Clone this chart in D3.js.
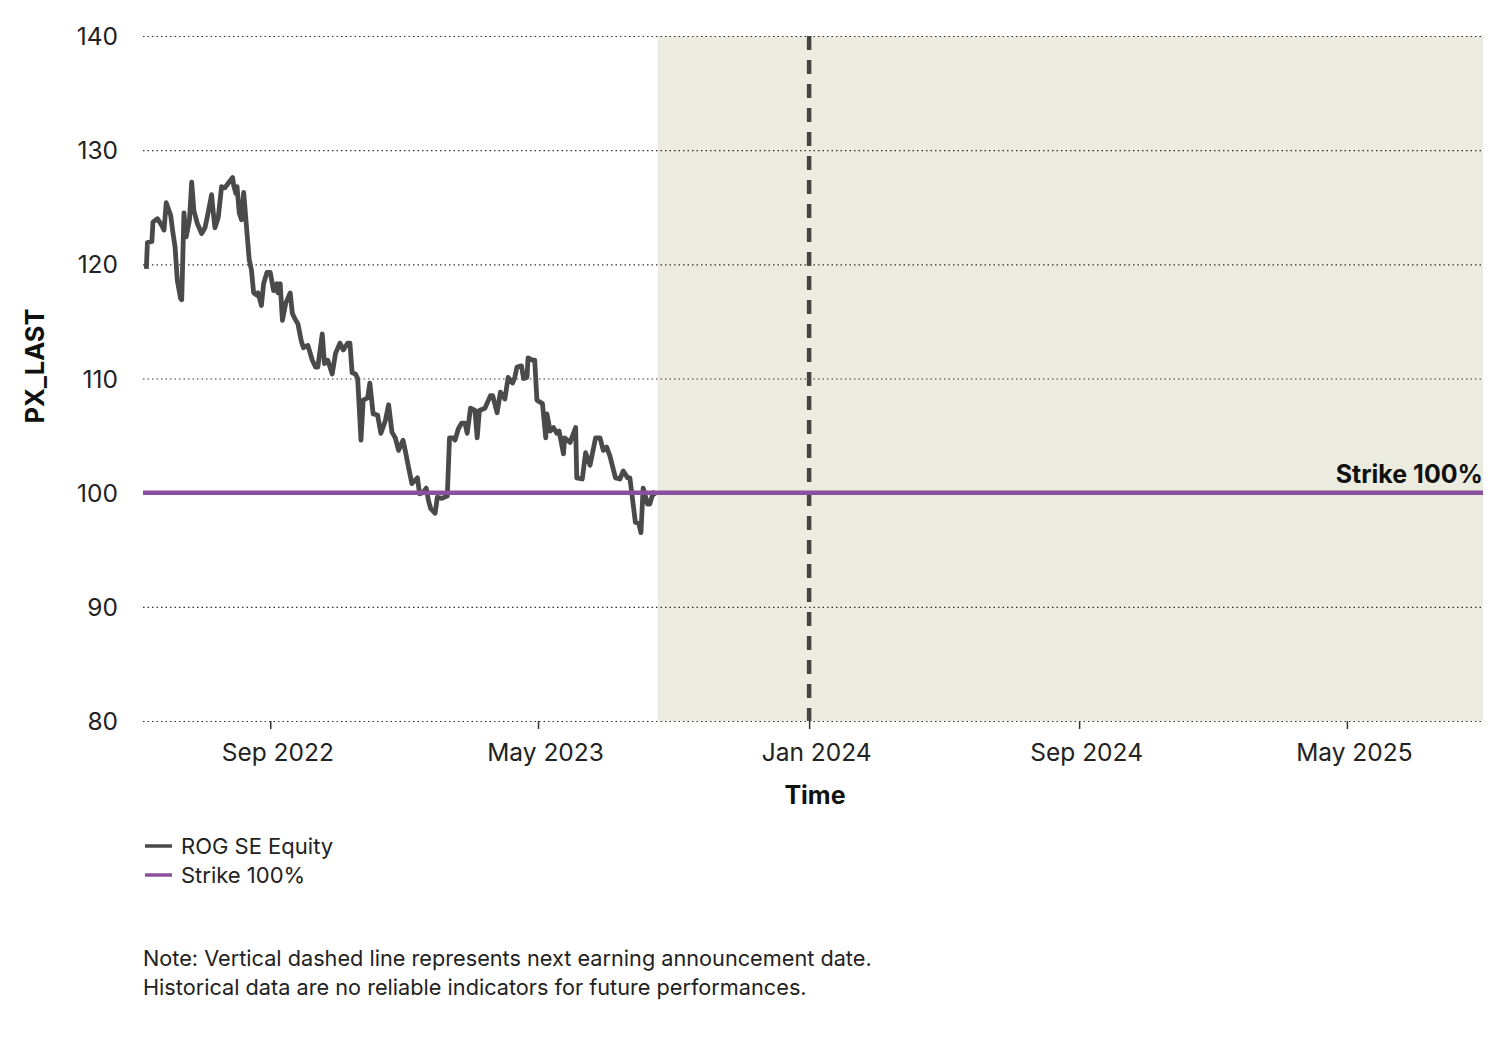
<!DOCTYPE html>
<html>
<head>
<meta charset="utf-8">
<script src="https://cdn.jsdelivr.net/npm/d3@7"></script>
<style>
  body { margin: 0; background: #fff; }
  svg { display: block; font-family: Inter, "Noto Sans", sans-serif; }
</style>
</head>
<body>
<div id="chart"></div>
<script>
// --- data ---
var dates = [
  "2022-05-12","2022-05-13","2022-05-17","2022-05-18","2022-05-22","2022-05-26","2022-05-28","2022-05-30",
  "2022-06-03","2022-06-05","2022-06-07","2022-06-09","2022-06-12","2022-06-13","2022-06-15","2022-06-17",
  "2022-06-20","2022-06-22","2022-06-24","2022-06-27","2022-07-01","2022-07-04","2022-07-06","2022-07-10",
  "2022-07-11","2022-07-13","2022-07-16","2022-07-19","2022-07-22","2022-07-25","2022-07-29","2022-07-30",
  "2022-08-01","2022-08-02","2022-08-04","2022-08-06","2022-08-08","2022-08-10","2022-08-13","2022-08-15",
  "2022-08-17","2022-08-20","2022-08-21","2022-08-24","2022-08-26","2022-08-29","2022-09-01","2022-09-04",
  "2022-09-07","2022-09-08","2022-09-10","2022-09-12","2022-09-15","2022-09-19","2022-09-21","2022-09-24",
  "2022-09-26","2022-09-29","2022-10-01","2022-10-05","2022-10-09","2022-10-12","2022-10-14","2022-10-18",
  "2022-10-20","2022-10-23","2022-10-27","2022-10-30","2022-11-03","2022-11-06","2022-11-10","2022-11-12",
  "2022-11-14","2022-11-17","2022-11-19","2022-11-22","2022-11-24","2022-11-28","2022-11-30","2022-12-03",
  "2022-12-07","2022-12-10","2022-12-14","2022-12-17","2022-12-20","2022-12-23","2022-12-26","2022-12-30",
  "2023-01-01","2023-01-04","2023-01-07","2023-01-10","2023-01-12","2023-01-14","2023-01-17","2023-01-20",
  "2023-01-22","2023-01-24","2023-01-28","2023-01-30","2023-02-03","2023-02-08","2023-02-10","2023-02-13",
  "2023-02-15","2023-02-18","2023-02-21","2023-02-24","2023-02-26","2023-03-01","2023-03-05","2023-03-07",
  "2023-03-09","2023-03-14","2023-03-19","2023-03-21","2023-03-25","2023-03-28","2023-04-01","2023-04-04",
  "2023-04-08","2023-04-10","2023-04-12","2023-04-16","2023-04-18","2023-04-21","2023-04-22","2023-04-26",
  "2023-04-28","2023-04-30","2023-05-05","2023-05-08","2023-05-09","2023-05-12","2023-05-15","2023-05-18",
  "2023-05-20","2023-05-24","2023-05-25","2023-05-30","2023-06-04","2023-06-05","2023-06-10","2023-06-13",
  "2023-06-17","2023-06-22","2023-06-26","2023-06-29","2023-07-02","2023-07-05","2023-07-10","2023-07-14",
  "2023-07-17","2023-07-21","2023-07-23","2023-07-28","2023-07-31","2023-08-02","2023-08-04","2023-08-08",
  "2023-08-10","2023-08-13","2023-08-15"
];
var prices = [
  119.6,121.9,122.0,123.7,124.0,123.4,123.0,125.4,
  124.3,122.8,121.5,118.6,117.0,116.9,124.5,122.4,
  123.9,127.2,124.7,123.6,122.7,123.2,124.1,126.1,
  125.0,123.2,124.1,126.8,126.7,127.1,127.6,126.9,
  126.2,126.8,124.5,123.9,126.3,123.9,120.4,119.5,
  117.5,117.3,117.5,116.4,118.3,119.3,119.3,117.7,
  118.3,117.5,118.3,115.1,116.6,117.5,115.7,115.1,
  114.8,113.3,112.7,112.9,111.6,111.0,111.0,113.9,
  111.3,111.6,110.4,112.2,113.1,112.5,113.1,113.1,
  110.5,110.4,110.0,104.6,108.1,108.3,109.6,106.9,
  106.8,105.2,106.3,107.7,105.3,104.8,103.7,104.6,
  103.7,102.2,100.8,101.1,101.3,99.9,100.0,100.4,
  99.3,98.6,98.2,99.6,99.5,99.7,104.8,104.8,
  104.6,105.6,106.1,106.1,105.2,107.4,107.2,104.8,
  107.2,107.4,108.5,108.5,107.0,108.8,108.2,110.1,
  109.6,110.1,111.0,111.1,110.0,110.1,111.8,111.6,
  111.6,108.1,107.8,104.8,106.9,105.4,105.7,105.2,
  105.4,103.4,104.8,104.4,105.7,101.3,101.2,103.5,
  102.4,104.8,104.8,103.7,104.0,103.2,101.3,101.2,
  101.9,101.3,101.3,97.4,97.3,96.5,100.4,99.0,
  99.0,100.0,99.7
];
var strike = 100;
var timeDomain = ["2022-05-09", "2025-09-01"];
var forecastStart = "2023-08-17";
var earningsDate = "2024-01-01";
var xTicks = ["2022-09-01", "2023-05-01", "2024-01-01", "2024-09-01", "2025-05-01"];
var yTicks = [80, 90, 100, 110, 120, 130, 140];
var seriesNames = ["ROG SE Equity", "Strike 100%"];
var notes = [
  "Note: Vertical dashed line represents next earning announcement date.",
  "Historical data are no reliable indicators for future performances."
];

var W = 1500, H = 1051;
var margin = {top: 36, right: 17, bottom: 330, left: 143};
var width = W - margin.left - margin.right;
var height = H - margin.top - margin.bottom;

var grey = "#4a4a4a", purple = "#8a4f9e", shade = "#ebebdf";
var parse = d3.timeParse("%Y-%m-%d");

var data = dates.map(function(d, i){ return {date: parse(d), value: prices[i]}; });

var svg = d3.select("#chart").append("svg")
  .attr("width", W).attr("height", H);

var chart = svg.append("g")
  .attr("transform", "translate(" + margin.left + "," + margin.top + ")");

var x = d3.scaleTime().domain(timeDomain.map(parse)).range([0, width]);
var y = d3.scaleLinear().domain([80, 140]).range([height, 0]);

// shaded future region
chart.append("rect")
  .attr("x", x(parse(forecastStart)))
  .attr("y", 0)
  .attr("width", width - x(parse(forecastStart)))
  .attr("height", height)
  .attr("fill", shade);

// dotted gridlines + y labels
var yAxis = d3.axisLeft(y).tickValues(yTicks).tickSize(-width).tickPadding(25);
chart.append("g").attr("class", "y axis").call(yAxis)
  .call(function(g){
    g.select(".domain").remove();
    g.selectAll(".tick line")
      .attr("stroke", "#333").attr("stroke-width", 1.2).attr("stroke-dasharray", "1.5,3");
    g.selectAll(".tick text")
      .attr("font-size", 24.5).attr("fill", "#222").attr("font-family", "Inter").attr("dy", "0.35em");
  });

// x axis: short ticks only
var xAxis = d3.axisBottom(x).tickValues(xTicks.map(parse))
  .tickSize(8).tickPadding(15).tickFormat(d3.timeFormat("%b %Y"));
chart.append("g").attr("class", "x axis")
  .attr("transform", "translate(0," + height + ")")
  .call(xAxis)
  .call(function(g){
    g.select(".domain").remove();
    g.selectAll(".tick line").attr("stroke", "#333").attr("stroke-width", 1.5);
    g.selectAll(".tick text")
      .attr("font-size", 24.5).attr("fill", "#222").attr("font-family", "Inter")
      .attr("dx", 7);
  });

// earnings date dashed line
chart.append("line")
  .attr("x1", x(parse(earningsDate))).attr("x2", x(parse(earningsDate)))
  .attr("y1", 0).attr("y2", height)
  .attr("stroke", "#444").attr("stroke-width", 4.5)
  .attr("stroke-dasharray", "14,10");

// price line
var line = d3.line()
  .x(function(d){ return x(d.date); })
  .y(function(d){ return y(d.value); });

chart.append("path")
  .datum(data)
  .attr("d", line)
  .attr("fill", "none")
  .attr("stroke", grey)
  .attr("stroke-width", 4.8)
  .attr("stroke-linejoin", "round");

// strike line
chart.append("line")
  .attr("x1", 0).attr("x2", width)
  .attr("y1", y(strike)).attr("y2", y(strike))
  .attr("stroke", purple).attr("stroke-width", 4.5);

chart.append("text")
  .attr("x", width).attr("y", y(strike) - 10)
  .attr("text-anchor", "end")
  .attr("font-size", 25).attr("font-weight", 700).attr("fill", "#111")
  .text(seriesNames[1]);

// axis titles
svg.append("text")
  .attr("transform", "translate(44," + 366 + ") rotate(-90)")
  .attr("text-anchor", "middle")
  .attr("font-size", 25.5).attr("font-weight", 700).attr("fill", "#111")
  .text("PX_LAST");

svg.append("text")
  .attr("x", margin.left + width / 2 + 2).attr("y", 804)
  .attr("text-anchor", "middle")
  .attr("font-size", 25).attr("font-weight", 700).attr("fill", "#111")
  .text("Time");

// legend
var legend = svg.append("g").attr("transform", "translate(145,846)");
[grey, purple].forEach(function(c, i){
  var row = legend.append("g").attr("transform", "translate(0," + (i * 29) + ")");
  row.append("line").attr("x1", 0).attr("x2", 27).attr("y1", 0).attr("y2", 0)
    .attr("stroke", c).attr("stroke-width", 3.5);
  row.append("text").attr("x", 36).attr("y", 0).attr("dy", "0.35em")
    .attr("font-size", 22).attr("fill", "#222").text(seriesNames[i]);
});

// footnote
svg.append("g").selectAll("text").data(notes).enter().append("text")
  .attr("x", 143)
  .attr("y", function(d, i){ return 966 + i * 29; })
  .attr("font-size", 21.7).attr("fill", "#222")
  .text(function(d){ return d; });
</script>
</body>
</html>
